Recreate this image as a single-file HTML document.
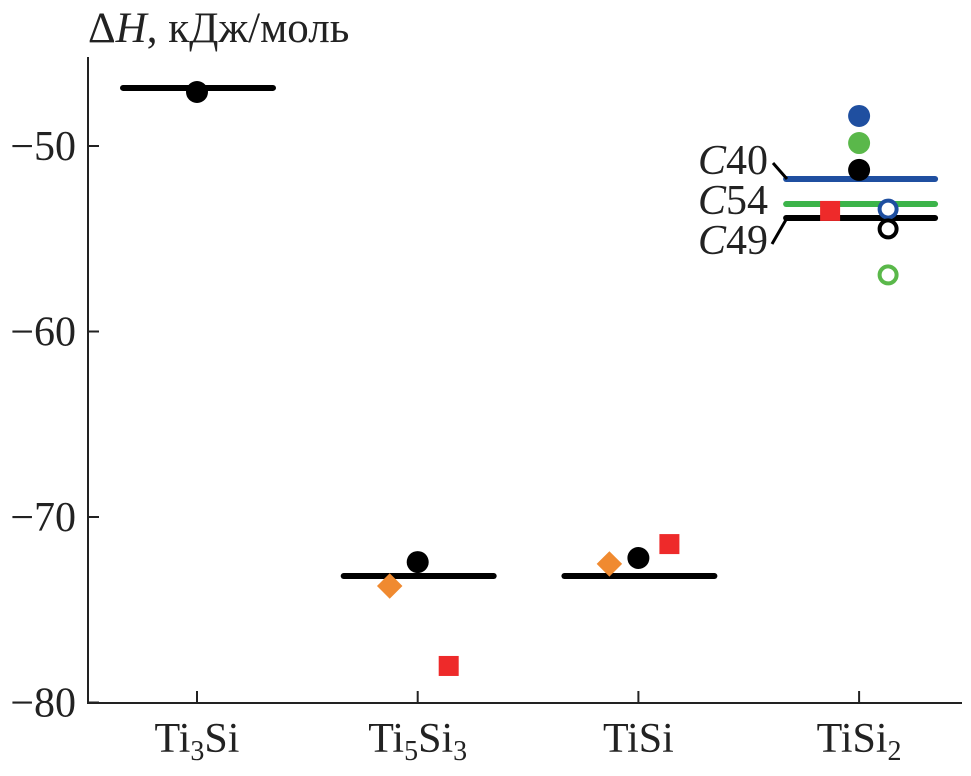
<!DOCTYPE html>
<html><head><meta charset="utf-8"><style>
body{margin:0;background:#fff}
svg text{font-family:"Liberation Serif",serif;fill:#222}
</style></head><body>
<svg id="chart" width="971" height="771" viewBox="0 0 971 771" xmlns="http://www.w3.org/2000/svg">
<g id="g"></g>
</svg>
<script>
const categories=["Ti3Si","Ti5Si3","TiSi","TiSi2"];
const yTicks=[-50,-60,-70,-80];
const levelCat=[0,1,2,3,3,3];
const levelVal=[-46.87,-73.18,-73.18,-51.78,-53.13,-53.88];
const levelColor=["#000","#000","#000","#1f4fa0","#3cb44a","#000"];
const ptCat=[0,1,1,1,2,2,2,3,3,3,3,3,3,3];
const ptVal=[-47.09,-72.43,-73.72,-78.03,-72.21,-72.53,-71.46,-48.38,-49.84,-51.29,-53.5,-53.4,-54.47,-56.95];
const ptShape=["dot","dot","diamond","square","dot","diamond","square","dot","dot","dot","square","ring","ring","ring"];
const ptColor=["#000","#000","#f08a30","#ee2a2a","#000","#f08a30","#ee2a2a","#1f4fa0","#5ab84a","#000","#ee2a2a","#1f4fa0","#000","#5ab84a"];
const ptDx=[0,0,-28,31,0,-29,31,0,0,0,-29,29,29,29];

const g=document.getElementById('g');
const NS="http://www.w3.org/2000/svg";
const y=v=>146+(-50-v)*18.55;
const x=i=>197+i*220.7;
function el(t,a,name){const e=document.createElementNS(NS,t);for(const k in a)e.setAttribute(k,a[k]);


g.appendChild(e);return e;}
el('line',{x1:88,y1:57,x2:88,y2:704,stroke:'#222','stroke-width':2},'y-axis');
el('line',{x1:87,y1:703,x2:962,y2:703,stroke:'#222','stroke-width':2},'x-axis');
yTicks.forEach(v=>{el('line',{x1:88,y1:y(v),x2:99,y2:y(v),stroke:'#222','stroke-width':2},'y-tick');
const t=el('text',{x:76,y:y(v)+14,'font-size':42,'text-anchor':'end'},'y-tick-label');t.textContent='\u2212'+Math.abs(v);});
const labs=['Ti<tspan font-size="28" dy="8">3</tspan><tspan dy="-8">Si</tspan>','Ti<tspan font-size="28" dy="8">5</tspan><tspan dy="-8">Si</tspan><tspan font-size="28" dy="8">3</tspan>','TiSi','TiSi<tspan font-size="28" dy="8">2</tspan>'];
categories.forEach((c,i)=>{el('line',{x1:x(i),y1:703,x2:x(i),y2:691,stroke:'#222','stroke-width':2},'x-tick');
const t=el('text',{x:x(i),y:752,'font-size':42,'text-anchor':'middle'},'x-tick-label');t.innerHTML=labs[i];});
const tt=el('text',{x:88,y:42,'font-size':43},'y-axis-title');tt.innerHTML='\u0394<tspan font-style="italic">H</tspan>, кДж/моль';
levelVal.forEach((v,k)=>{const c=x(levelCat[k]);const l=levelCat[k]==3?c-73:c-74;const r=c+76;
el('line',{x1:l,y1:y(v),x2:r,y2:y(v),stroke:levelColor[k],'stroke-width':6,'stroke-linecap':'round'},'level-line');});
ptVal.forEach((v,k)=>{const cx=x(ptCat[k])+ptDx[k],cy=y(v),c=ptColor[k],s=ptShape[k];
if(s==='dot')el('circle',{cx,cy,r:11,fill:c},'point-dot');
else if(s==='ring')el('circle',{cx,cy,r:8.5,fill:'#fff',stroke:c,'stroke-width':4},'point-ring');
else if(s==='square')el('rect',{x:cx-10,y:cy-10,width:20,height:20,fill:c},'point-square');
else el('rect',{x:cx-9,y:cy-9,width:18,height:18,fill:c,transform:`rotate(45 ${cx} ${cy})`},'point-diamond');});
[['C','40',174],['C','54',214],['C','49',254]].forEach(a=>{const t=el('text',{x:768,y:a[2],'font-size':42,'text-anchor':'end'},'phase-label');t.innerHTML='<tspan font-style="italic">'+a[0]+'</tspan>'+a[1];});
el('polyline',{points:`773,163 787,179`,stroke:'#000','stroke-width':3,fill:'none'},'c40-leader');
el('polyline',{points:`787,218 772,244`,stroke:'#000','stroke-width':3,fill:'none'},'c49-leader');
</script>
</body></html>
